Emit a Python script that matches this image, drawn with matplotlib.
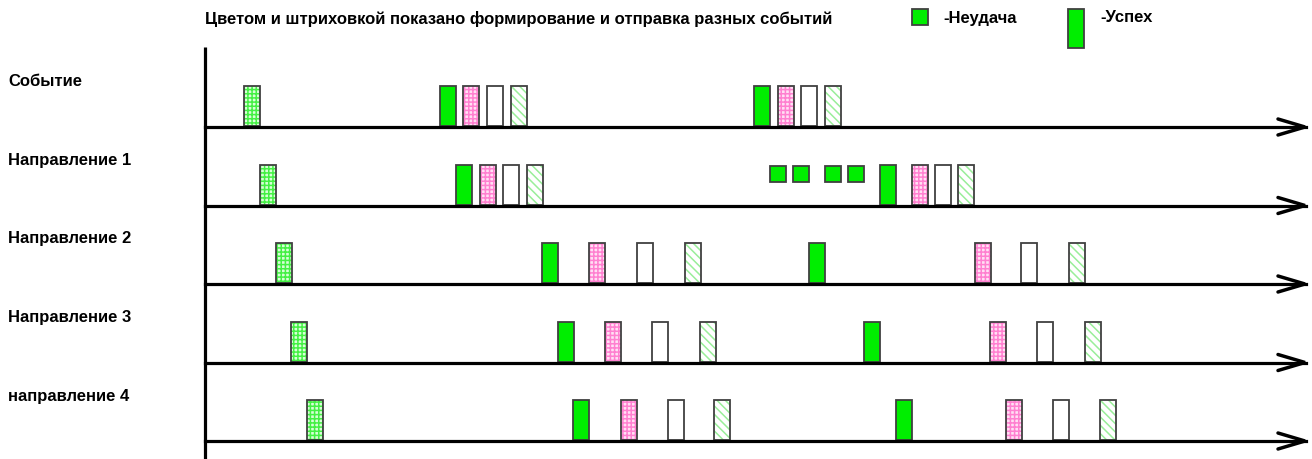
import matplotlib
matplotlib.use("Agg")
import matplotlib.pyplot as plt
from matplotlib.patches import Rectangle

plt.rcParams['font.family'] = ['Liberation Sans', 'DejaVu Sans']

title = "Цветом и штриховкой показано формирование и отправка разных событий"
row_labels = ["Событие", "Направление 1", "Направление 2", "Направление 3", "направление 4"]
legend_labels = ["-Неудача", "-Успех"]

# event start times (timeline units = px of original) and event kinds per row
row0_t = [244, 440, 463, 487, 511, 754, 778, 801, 825]
row0_k = ["check", "solid", "pink", "white", "diag", "solid", "pink", "white", "diag"]
row1_t = [260, 456, 480, 503, 527, 770, 793, 825, 848, 880, 912, 935, 958]
row1_k = ["check", "solid", "pink", "white", "diag", "fail", "fail", "fail", "fail",
          "solid", "pink", "white", "diag"]
row2_t = [276, 542, 589, 637, 685, 809, 975, 1021, 1069]
row2_k = ["check", "solid", "pink", "white", "diag", "solid", "pink", "white", "diag"]
row3_t = [291, 558, 605, 652, 700, 864, 990, 1037, 1085]
row3_k = ["check", "solid", "pink", "white", "diag", "solid", "pink", "white", "diag"]
row4_t = [307, 573, 621, 668, 714, 896, 1006, 1053, 1100]
row4_k = ["check", "solid", "pink", "white", "diag", "solid", "pink", "white", "diag"]

rows_t = [row0_t, row1_t, row2_t, row3_t, row4_t]
rows_k = [row0_k, row1_k, row2_k, row3_k, row4_k]

W, H = 1312, 459
fig = plt.figure(figsize=(W / 100, H / 100), dpi=100)
ax = fig.add_axes([0, 0, 1, 1])
ax.set_xlim(0, W)
ax.set_ylim(H, 0)
ax.axis("off")

x0 = 205
x_end = 1306
baselines = [127 + i * 78.5 for i in range(5)]
bw, bh = 16, 40
sq = 16
edge = "#404040"
fs = 12

styles = {
    "check": dict(fc="#d8ffd8", hc="#44f044", hatch="++++"),
    "pink": dict(fc="#ffe0f4", hc="#ff80d0", hatch="++++"),
    "diag": dict(fc="white", hc="#99ee99", hatch="\\\\\\\\"),
    "white": dict(fc="white", hc=None, hatch=None),
    "solid": dict(fc="#00ee00", hc=None, hatch=None),
    "fail": dict(fc="#00ee00", hc=None, hatch=None),
}


def draw_bar(x, ybot, w, h, kind):
    st = styles[kind]
    ax.add_patch(Rectangle((x, ybot), w, -h, facecolor=st["fc"], edgecolor="none", zorder=2))
    if st["hatch"]:
        ax.add_patch(Rectangle((x, ybot), w, -h, facecolor="none", edgecolor=st["hc"],
                               hatch=st["hatch"], linewidth=0, zorder=3))
    ax.add_patch(Rectangle((x, ybot), w, -h, facecolor="none", edgecolor=edge,
                           linewidth=1.3, zorder=4))


plt.rcParams['hatch.linewidth'] = 1.1

# vertical axis
ax.plot([x0, x0], [47, H], color="black", lw=2.3, zorder=5, solid_capstyle="butt")

for i, (ts, ks) in enumerate(zip(rows_t, rows_k)):
    yb = baselines[i]
    ax.plot([x0, x_end], [yb, yb], color="black", lw=2.3, zorder=5)
    ax.plot([x_end - 28, x_end - 1, x_end - 28], [yb - 8, yb, yb + 8], color="black",
            lw=2.5, zorder=5, solid_joinstyle="miter", solid_capstyle="round")
    for t, k in zip(ts, ks):
        if k == "fail":
            draw_bar(t, yb - 24, sq, sq, k)
        else:
            draw_bar(t, yb - 1, bw, bh, k)
    ax.text(8, yb - 45, row_labels[i], fontsize=fs, fontweight="bold", ha="left",
            va="center", color="black")

ax.text(205, 19, title, fontsize=fs, fontweight="bold", ha="left", va="center")

# legend
draw_bar(912, 25, sq, sq, "fail")
ax.text(943, 18, legend_labels[0], fontsize=fs, fontweight="bold", ha="left", va="center")
draw_bar(1068, 48, bw, 39, "solid")
ax.text(1100, 18, legend_labels[1], fontsize=fs, fontweight="bold", ha="left", va="center")

fig.savefig("out.png", dpi=100)
